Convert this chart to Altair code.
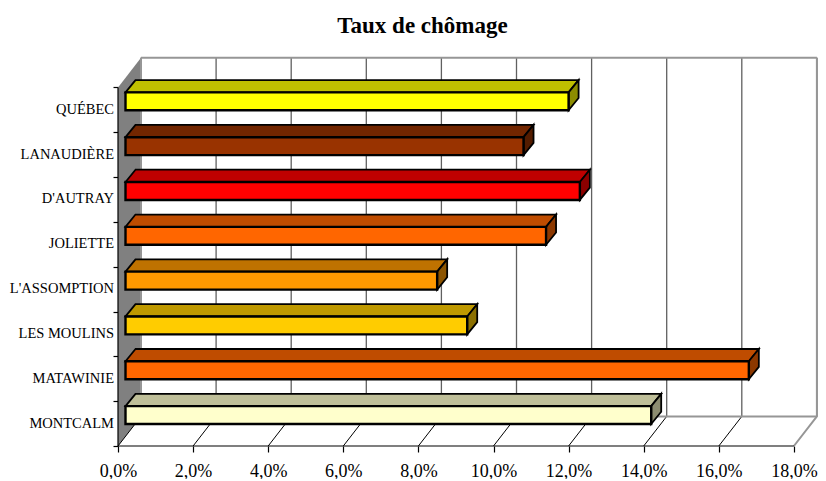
import altair as alt
import pandas as pd

categories = ["MONTCALM", "MATAWINIE", "LES MOULINS", "L'ASSOMPTION", "JOLIETTE", "D'AUTRAY", "LANAUDIÈRE", "QUÉBEC"]
values = [14.0, 16.6, 9.1, 8.3, 11.2, 12.1, 10.6, 11.8]
fills = ["#FFFFCC", "#FF6600", "#FFCC00", "#FF9900", "#FF6600", "#FF0000", "#993300", "#FFFF00"]
x_ticks = [0, 2, 4, 6, 8, 10, 12, 14, 16, 18]

W, H = 699, 389
PX_X, PX_Y = 37.55, 44.82
DEPTH_X, DEPTH_Y = 23 / PX_X, 29.6 / PX_Y
BAR_X0 = 7.5 / PX_X
BAR_DX, BAR_DY = 10 / PX_X, 12.3 / PX_Y
BAR_LO, BAR_HI = 0.49, 0.89
N = len(categories)
FONT = "Liberation Serif"
GREY = "#969696"


def shade(c, f):
    return "#" + "".join(f"{int(int(c[i:i+2], 16) * f):02X}" for i in (1, 3, 5))


xs = alt.Scale(domain=[0, W / PX_X], nice=False, zero=False)
ys = alt.Scale(domain=[0, H / PX_Y], nice=False, zero=False)
AX = alt.Axis(values=x_ticks, domain=False, grid=False, tickColor="#000000", tickSize=6, tickWidth=1.2,
              labelFont=FONT, labelFontSize=18, labelColor="#000000", labelPadding=10, labelFlush=False,
              labelOverlap=False, title=None,
              labelExpr="replace(format(datum.value, '.1f'), '.', ',') + '%'")
AY = alt.Axis(values=list(range(N + 1)), domain=False, grid=False, labels=False, title=None,
              tickColor="#000000", tickSize=5, tickWidth=1.2)
X = lambda f, **k: alt.X(f, type="quantitative", scale=xs, axis=AX, **k)
Y = lambda f, **k: alt.Y(f, type="quantitative", scale=ys, axis=AY, **k)

wall = pd.DataFrame({"x": [0, DEPTH_X], "y": [0, DEPTH_Y], "y2": [N, N + DEPTH_Y]})
wall_layer = alt.Chart(wall).mark_area(orient="vertical", color="#808080").encode(
    X("x"), Y("y"), y2="y2")

seg = []
for v in x_ticks:
    seg.append(dict(k=f"back{v}", x=v + DEPTH_X, y=DEPTH_Y, g=0))
    seg.append(dict(k=f"back{v}", x=v + DEPTH_X, y=N + DEPTH_Y, g=0))
    seg.append(dict(k=f"floor{v}", x=v, y=0, g=1))
    seg.append(dict(k=f"floor{v}", x=v + DEPTH_X, y=DEPTH_Y, g=1))
back = pd.DataFrame(seg)
back_layer = alt.Chart(back[back.g == 0]).mark_line(color="#606060", strokeWidth=1.3).encode(
    X("x"), Y("y"), detail="k:N", order="y:Q")
floor_layer = alt.Chart(back[(back.g == 1) & (back.x < 18)]).mark_line(color="#000000", strokeWidth=1).encode(
    X("x"), Y("y"), detail="k:N", order="y:Q")

mx = x_ticks[-1]
frame = pd.DataFrame([
    dict(k="top", o=0, x=0 + DEPTH_X, y=N + DEPTH_Y),
    dict(k="top", o=1, x=mx + DEPTH_X, y=N + DEPTH_Y),
    dict(k="right", o=0, x=mx + DEPTH_X, y=N + DEPTH_Y),
    dict(k="right", o=1, x=mx + DEPTH_X, y=DEPTH_Y),
    dict(k="right", o=2, x=mx, y=0),
    dict(k="bottom", o=0, x=0 + DEPTH_X, y=DEPTH_Y),
    dict(k="bottom", o=1, x=mx + DEPTH_X, y=DEPTH_Y),
    dict(k="left", o=0, x=0 + DEPTH_X, y=DEPTH_Y),
    dict(k="left", o=1, x=0 + DEPTH_X, y=N + DEPTH_Y),
])
frame_layer = alt.Chart(frame).mark_line(color=GREY, strokeWidth=2).encode(
    X("x"), Y("y"), detail="k:N", order="o:Q")

front = pd.DataFrame([
    dict(k="h", o=0, x=0, y=0), dict(k="h", o=1, x=mx, y=0),
    dict(k="v", o=0, x=0, y=0), dict(k="v", o=1, x=0, y=N),
])
front_layer = alt.Chart(front).mark_line(color="#000000", strokeWidth=1.2).encode(
    X("x"), Y("y"), detail="k:N", order="o:Q")

faces_top, faces_side, faces_front = [], [], []
for i, (c, v, f) in enumerate(zip(categories, values, fills)):
    x0, x1 = BAR_X0, BAR_X0 + v
    lo, hi = i + BAR_LO, i + BAR_HI
    faces_front.append(dict(c=c, x=x0, x2=x1, y=lo, y2=hi))
    faces_top += [dict(c=c, y=hi, x=x0, x2=x1), dict(c=c, y=hi + BAR_DY, x=x0 + BAR_DX, x2=x1 + BAR_DX)]
    faces_side += [dict(c=c, x=x1, y=lo, y2=hi), dict(c=c, x=x1 + BAR_DX, y=lo + BAR_DY, y2=hi + BAR_DY)]

top_layer = alt.Chart(pd.DataFrame(faces_top)).mark_area(
    orient="horizontal", stroke="#000000", strokeWidth=1.8, strokeJoin="miter").encode(
    X("x"), alt.X2("x2"), Y("y"), fill=alt.Fill("c:N", legend=None, scale=alt.Scale(
        domain=categories, range=[shade(f, 0.75) for f in fills])), detail="c:N")
side_layer = alt.Chart(pd.DataFrame(faces_side)).mark_area(
    orient="vertical", stroke="#000000", strokeWidth=1.8, strokeJoin="miter").encode(
    X("x"), Y("y"), alt.Y2("y2"), fill=alt.Fill("c:N", legend=None, scale=alt.Scale(
        domain=categories, range=[shade(f, 0.55) for f in fills])), detail="c:N")
front_face = alt.Chart(pd.DataFrame(faces_front)).mark_rect(stroke="#000000", strokeWidth=2.4).encode(
    X("x"), alt.X2("x2"), Y("y"), alt.Y2("y2"), fill=alt.Fill("c:N", legend=None, scale=alt.Scale(
        domain=categories, range=fills)))

labels = pd.DataFrame({"c": categories, "x": [0] * N, "y": [i + 0.5 for i in range(N)]})
label_layer = alt.Chart(labels).mark_text(
    align="right", baseline="middle", dx=-4, font=FONT, fontSize=14.5, color="#000000").encode(
    X("x"), Y("y"), text="c:N")

chart = alt.layer(
    wall_layer, back_layer, floor_layer, frame_layer, front_layer,
    top_layer, side_layer, front_face, label_layer,
).resolve_scale(fill="independent").properties(
    width=W, height=H,
    padding={"left": 110, "top": 49, "right": 1, "bottom": 33},
    autosize=alt.AutoSizeParams(type="none"),
    title=alt.Title("Taux de chômage", font=FONT, fontSize=23, fontWeight="bold", color="#000000",
                    anchor="middle", dx=-45, offset=16),
).configure_view(stroke=None)

chart.save("out.html", embed_options={"renderer": "svg", "actions": False})
